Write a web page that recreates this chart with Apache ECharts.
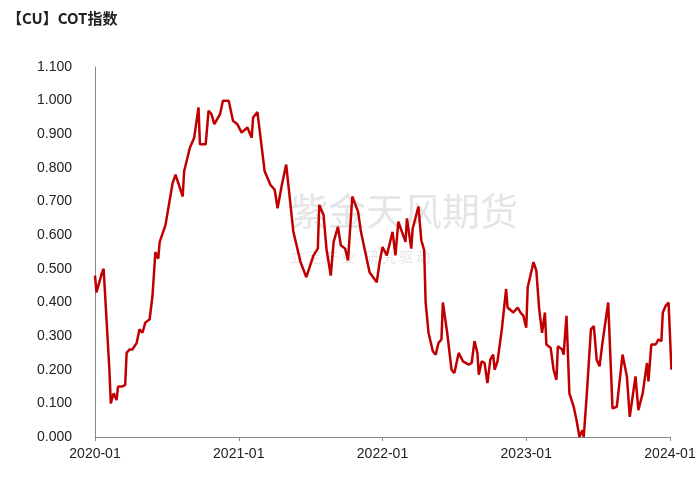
<!DOCTYPE html>
<html>
<head>
<meta charset="utf-8">
<script src="https://cdn.jsdelivr.net/npm/echarts@6/dist/echarts.min.js"></script>
<style>html,body{margin:0;padding:0;background:#fff}#chart{width:700px;height:483px}</style>
</head>
<body>
<div id="chart"></div>
<script>
// decimal years and COT index
const years = [2020.00,2020.01,2020.05,2020.06,2020.10,2020.11,2020.13,2020.15,2020.16,2020.19,2020.21,2020.22,2020.24,2020.26,2020.29,2020.31,2020.33,2020.35,2020.38,2020.40,2020.42,2020.44,2020.45,2020.49,2020.54,2020.56,2020.61,2020.62,2020.66,2020.69,2020.72,2020.73,2020.77,2020.79,2020.81,2020.83,2020.87,2020.89,2020.93,2020.96,2020.99,
2021.02,2021.06,2021.09,2021.10,2021.13,2021.18,2021.22,2021.25,2021.27,2021.30,2021.33,2021.38,2021.43,2021.47,2021.52,2021.55,2021.56,2021.59,2021.61,2021.64,2021.66,2021.69,2021.71,2021.74,2021.76,2021.79,2021.83,2021.85,2021.89,2021.91,2021.96,2021.98,
2022.00,2022.03,2022.07,2022.09,2022.11,2022.16,2022.17,2022.20,2022.21,2022.25,2022.27,2022.29,2022.30,2022.32,2022.35,2022.37,2022.39,2022.41,2022.42,2022.45,2022.48,2022.50,2022.53,2022.56,2022.60,2022.62,2022.64,2022.66,2022.67,2022.69,2022.71,2022.73,2022.75,2022.77,2022.78,2022.80,2022.83,2022.86,2022.87,2022.91,2022.94,2022.96,2022.98,
2023.00,2023.01,2023.04,2023.05,2023.07,2023.09,2023.11,2023.13,2023.14,2023.17,2023.19,2023.21,2023.22,2023.25,2023.26,2023.28,2023.30,2023.33,2023.35,2023.37,2023.39,2023.40,2023.42,2023.45,2023.47,2023.49,2023.51,2023.53,2023.57,2023.60,2023.63,2023.67,2023.70,2023.72,2023.76,2023.78,2023.81,2023.82,2023.84,2023.85,2023.87,2023.90,2023.92,2023.94,2023.95,2023.97,2023.99,2024.01];
const cot = [0.48,0.43,0.49,0.50,0.20,0.10,0.13,0.11,0.15,0.15,0.155,0.25,0.26,0.26,0.28,0.32,0.31,0.34,0.35,0.42,0.55,0.53,0.58,0.63,0.755,0.78,0.715,0.79,0.86,0.89,0.98,0.87,0.87,0.97,0.96,0.93,0.96,1.00,1.00,0.94,0.93,
0.905,0.92,0.89,0.95,0.966,0.79,0.75,0.735,0.68,0.75,0.81,0.61,0.52,0.475,0.54,0.56,0.69,0.66,0.56,0.48,0.58,0.625,0.57,0.56,0.525,0.715,0.67,0.61,0.53,0.49,0.46,0.52,
0.565,0.54,0.61,0.54,0.64,0.58,0.65,0.56,0.62,0.685,0.585,0.555,0.40,0.31,0.255,0.245,0.28,0.29,0.40,0.31,0.20,0.19,0.25,0.225,0.215,0.22,0.285,0.25,0.185,0.225,0.22,0.16,0.23,0.245,0.20,0.225,0.32,0.44,0.385,0.37,0.385,0.37,0.36,
0.325,0.445,0.50,0.52,0.495,0.38,0.31,0.37,0.275,0.265,0.20,0.17,0.27,0.26,0.245,0.36,0.13,0.09,0.05,0.00,0.02,0.00,0.12,0.32,0.33,0.23,0.21,0.28,0.40,0.085,0.09,0.245,0.18,0.06,0.18,0.08,0.13,0.16,0.22,0.165,0.275,0.275,0.29,0.285,0.37,0.39,0.40,0.20];
const yearTicks = [2020, 2021, 2022, 2023, 2024];

const chart = echarts.init(document.getElementById('chart'));
chart.setOption({
  animation: false,
  title: {
    text: '【CU】COT指数', left: 2, top: 6,
    textStyle: { fontSize: 15, fontWeight: 'bold', color: '#222', fontFamily: 'Noto Sans CJK SC' }
  },
  graphic: [
    { type: 'text', left: 290, top: 192, style: { text: '紫金天风期货', font: '38px "Noto Sans CJK SC"', fill: 'rgba(150,150,150,0.25)' } },
    { type: 'text', left: 290, top: 250, style: { text: '立 足 产 业   研 究 驱 动', font: '14px "Noto Sans CJK SC"', fill: 'rgba(150,150,150,0.25)' } }
  ],
  grid: { left: 95, right: 30, top: 67, bottom: 46 },
  xAxis: {
    type: 'value', min: 2020, max: 2024, interval: 1,
    axisLine: { lineStyle: { color: '#888' } },
    axisTick: { show: true, length: 4, lineStyle: { color: '#888' } },
    splitLine: { show: false },
    axisLabel: { color: '#222', fontSize: 14, margin: 10, formatter: v => yearTicks.includes(v) ? v + '-01' : '' }
  },
  yAxis: {
    type: 'value', min: 0, max: 1.1, interval: 0.1,
    axisLine: { show: true, lineStyle: { color: '#888' } },
    axisTick: { show: false },
    splitLine: { show: false },
    axisLabel: { color: '#222', fontSize: 14, margin: 23, formatter: v => v.toFixed(3) }
  },
  series: [{
    type: 'line', showSymbol: false,
    data: years.map((y, i) => [y, cot[i]]),
    lineStyle: { color: '#c00000', width: 2.5 }
  }]
});
</script>
</body>
</html>
